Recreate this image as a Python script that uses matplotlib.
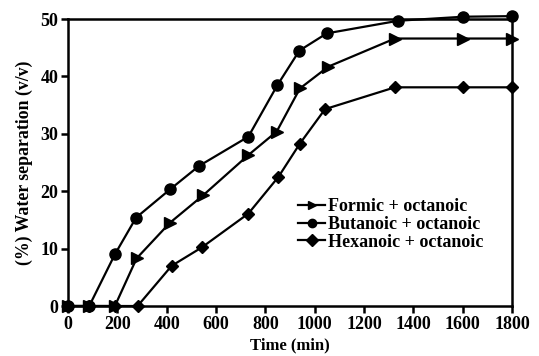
import matplotlib
matplotlib.use("Agg")
import matplotlib.pyplot as plt

plt.rcParams['font.family'] = ['Liberation Serif', 'DejaVu Serif']
plt.rcParams['font.weight'] = 'bold'

formic_x = [0, 86, 190, 278, 413, 548, 731, 846, 940, 1055, 1325, 1603, 1800]
formic_y = [0, 0, 0, 8.3, 14.5, 19.3, 26.3, 30.4, 37.9, 41.7, 46.6, 46.6, 46.6]

butanoic_x = [0, 86, 190, 276, 413, 531, 731, 849, 938, 1049, 1339, 1603, 1800]
butanoic_y = [0, 0, 9.0, 15.4, 20.3, 24.4, 29.5, 38.5, 44.5, 47.5, 49.7, 50.4, 50.5]

hexanoic_x = [0, 86, 190, 282, 420, 542, 731, 853, 940, 1042, 1325, 1603, 1800]
hexanoic_y = [0, 0, 0, 0, 7.0, 10.2, 16.1, 22.5, 28.3, 34.3, 38.1, 38.1, 38.1]

labels = ["Formic + octanoic", "Butanoic + octanoic", "Hexanoic + octanoic"]
xticks = [0, 200, 400, 600, 800, 1000, 1200, 1400, 1600, 1800]
yticks = [0, 10, 20, 30, 40, 50]

fig = plt.figure(figsize=(5.39, 3.56), dpi=100)
ax = fig.add_axes([0.1262, 0.1404, 0.8238, 0.8062])

ax.plot(formic_x, formic_y, color='black', lw=1.6, marker='>', ms=8, label=labels[0], clip_on=False, zorder=3)
ax.plot(butanoic_x, butanoic_y, color='black', lw=1.6, marker='o', ms=8, label=labels[1], clip_on=False, zorder=3)
ax.plot(hexanoic_x, hexanoic_y, color='black', lw=1.6, marker='D', ms=6, label=labels[2], clip_on=False, zorder=3)

ax.set_xlim(0, 1800)
ax.set_ylim(0, 50)
ax.set_xticks(xticks)
ax.set_yticks(yticks)
for s in ax.spines.values():
    s.set_linewidth(1.8)
ax.tick_params(direction='out', length=5, width=1.8, labelsize=13, pad=2)
for t in ax.get_xticklabels() + ax.get_yticklabels():
    t.set_fontweight('bold')

ax.set_xlabel("Time (min)", fontsize=12, fontweight='bold', labelpad=3)
ax.set_ylabel("(%) Water separation (v/v)", fontsize=12.8, fontweight='bold', labelpad=5)

leg = fig.legend(loc='upper left', bbox_to_anchor=(298 / 539, 1 - 198 / 356),
                 bbox_transform=fig.transFigure, frameon=False,
                 prop={'size': 13, 'weight': 'bold'}, handlelength=1.5,
                 handletextpad=0.15, labelspacing=0.05, borderpad=0.0,
                 borderaxespad=0.0)
for h in leg.legend_handles:
    h.set_markersize(6)

fig.savefig("out.png", dpi=100)
